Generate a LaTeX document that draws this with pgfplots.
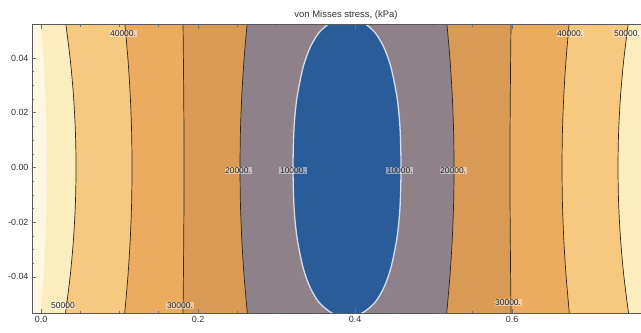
\documentclass[border=0pt]{standalone}
\usepackage{pgfplots}
\pgfplotsset{compat=1.18}
\usepackage{fontspec}
\setmainfont{Liberation Sans}
\definecolor{c60}{HTML}{FFF7E2}
\definecolor{c50}{HTML}{FCEDBE}
\definecolor{c40}{HTML}{F7C880}
\definecolor{c30}{HTML}{ECAC60}
\definecolor{c20}{HTML}{D89A55}
\definecolor{c10}{HTML}{8E818A}
\definecolor{c0}{HTML}{2B5C9A}
\definecolor{cline}{HTML}{2E2418}
\tikzset{lab/.style={font=\fontsize{8.5}{9}\selectfont, text=black!85, fill=white, fill opacity=0.45, text opacity=1, inner sep=0.6pt},
  contour/.style={draw=cline, line width=0.7pt, smooth, mark=none}}
\begin{document}
\begin{tikzpicture}
\path[use as bounding box] (0,0) rectangle (641bp,333bp);
\begin{axis}[
  at={(32bp,20bp)}, anchor=south west,
  scale only axis, width=628bp, height=288bp,
  xmin=-0.0115, xmax=0.7885, ymin=-0.0532, ymax=0.0521,
  axis background/.style={fill=c60},
  scaled x ticks=false, scaled y ticks=false,
  xtick={0,0.2,0.4,0.6}, xticklabels={0.0,0.2,0.4,0.6},
  ytick={-0.04,-0.02,0,0.02,0.04}, yticklabels={-0.04,-0.02,0.00,0.02,0.04},
  minor x tick num=3, minor y tick num=3,
  tick align=inside,
  major tick length=4bp, minor tick length=2bp,
  tick style={draw=black!55, line width=0.6pt},
  axis line style={draw=black!65, line width=1pt},
  tick label style={font=\fontsize{9}{10}\selectfont, text=black!80},
  title={von Misses stress, (kPa)},
  title style={font=\fontsize{9.5}{11}\selectfont, text=black!80, at={(0.5,1)}, anchor=center, yshift=4bp},
  axis on top,
  clip=true,
]
% filled bands (polygon = left contour top->bottom, right contour bottom->top)
\addplot[draw=none, fill=c50] coordinates {(-0.0019,0.058)(0.0000,0.052)(0.0033,0.039)(0.0057,0.026)(0.0071,0.013)(0.0076,0)(0.0071,-0.013)(0.0057,-0.026)(0.0033,-0.039)(0.0000,-0.052)(-0.0019,-0.058)
 (0.7815,-0.058)(0.7796,-0.052)(0.7763,-0.039)(0.7739,-0.026)(0.7725,-0.013)(0.7720,0)(0.7725,0.013)(0.7739,0.026)(0.7763,0.039)(0.7796,0.052)(0.7815,0.058)};
\addplot[draw=none, fill=c40] coordinates {(0.0288,0.058)(0.0318,0.052)(0.0374,0.039)(0.0414,0.026)(0.0438,0.013)(0.0446,0)(0.0438,-0.013)(0.0414,-0.026)(0.0374,-0.039)(0.0318,-0.052)(0.0288,-0.058)
 (0.7508,-0.058)(0.7478,-0.052)(0.7422,-0.039)(0.7382,-0.026)(0.7358,-0.013)(0.7350,0)(0.7358,0.013)(0.7382,0.026)(0.7422,0.039)(0.7478,0.052)(0.7508,0.058)};
\addplot[draw=none, fill=c30] coordinates {(0.1048,0.058)(0.1070,0.052)(0.1109,0.039)(0.1137,0.026)(0.1154,0.013)(0.1159,0)(0.1154,-0.013)(0.1137,-0.026)(0.1109,-0.039)(0.1070,-0.052)(0.1048,-0.058)
 (0.6748,-0.058)(0.6726,-0.052)(0.6687,-0.039)(0.6659,-0.026)(0.6642,-0.013)(0.6637,0)(0.6642,0.013)(0.6659,0.026)(0.6687,0.039)(0.6726,0.052)(0.6748,0.058)};
\addplot[draw=none, fill=c20] coordinates {(0.1806,0.058)(0.1809,0.052)(0.1814,0.039)(0.1818,0.026)(0.1821,0.013)(0.1822,0)(0.1821,-0.013)(0.1818,-0.026)(0.1814,-0.039)(0.1809,-0.052)(0.1806,-0.058)
 (0.5990,-0.058)(0.5987,-0.052)(0.5982,-0.039)(0.5978,-0.026)(0.5975,-0.013)(0.5974,0)(0.5975,0.013)(0.5978,0.026)(0.5982,0.039)(0.5987,0.052)(0.5990,0.058)};
\addplot[draw=none, fill=c10] coordinates {(0.2646,0.058)(0.2624,0.052)(0.2585,0.039)(0.2557,0.026)(0.2540,0.013)(0.2535,0)(0.2540,-0.013)(0.2557,-0.026)(0.2585,-0.039)(0.2624,-0.052)(0.2646,-0.058)
 (0.5150,-0.058)(0.5172,-0.052)(0.5211,-0.039)(0.5239,-0.026)(0.5256,-0.013)(0.5261,0)(0.5256,0.013)(0.5239,0.026)(0.5211,0.039)(0.5172,0.052)(0.5150,0.058)};
\addplot[fill=c0, draw=none, smooth] coordinates {(0.3898,0.0555)(0.3694,0.0530)(0.3541,0.0493)(0.3427,0.0438)(0.3337,0.0365)(0.3261,0.0256)(0.3223,0.0146)(0.3210,0)(0.3223,-0.0146)(0.3261,-0.0256)(0.3337,-0.0365)(0.3427,-0.0438)(0.3541,-0.0493)(0.3694,-0.0530)(0.3898,-0.0555)
 (0.4102,-0.0530)(0.4255,-0.0493)(0.4369,-0.0438)(0.4459,-0.0365)(0.4535,-0.0256)(0.4573,-0.0146)(0.4586,0)(0.4573,0.0146)(0.4535,0.0256)(0.4459,0.0365)(0.4369,0.0438)(0.4255,0.0493)(0.4102,0.0530)(0.3898,0.0555)};
% contour lines
\addplot[contour] coordinates {(0.0288,0.058)(0.0318,0.052)(0.0374,0.039)(0.0414,0.026)(0.0438,0.013)(0.0446,0)(0.0438,-0.013)(0.0414,-0.026)(0.0374,-0.039)(0.0318,-0.052)(0.0288,-0.058)};
\addplot[contour] coordinates {(0.7508,0.058)(0.7478,0.052)(0.7422,0.039)(0.7382,0.026)(0.7358,0.013)(0.7350,0)(0.7358,-0.013)(0.7382,-0.026)(0.7422,-0.039)(0.7478,-0.052)(0.7508,-0.058)};
\addplot[contour] coordinates {(0.1048,0.058)(0.1070,0.052)(0.1109,0.039)(0.1137,0.026)(0.1154,0.013)(0.1159,0)(0.1154,-0.013)(0.1137,-0.026)(0.1109,-0.039)(0.1070,-0.052)(0.1048,-0.058)};
\addplot[contour] coordinates {(0.6748,0.058)(0.6726,0.052)(0.6687,0.039)(0.6659,0.026)(0.6642,0.013)(0.6637,0)(0.6642,-0.013)(0.6659,-0.026)(0.6687,-0.039)(0.6726,-0.052)(0.6748,-0.058)};
\addplot[contour] coordinates {(0.1806,0.058)(0.1809,0.052)(0.1814,0.039)(0.1818,0.026)(0.1821,0.013)(0.1822,0)(0.1821,-0.013)(0.1818,-0.026)(0.1814,-0.039)(0.1809,-0.052)(0.1806,-0.058)};
\addplot[contour] coordinates {(0.5990,0.058)(0.5987,0.052)(0.5982,0.039)(0.5978,0.026)(0.5975,0.013)(0.5974,0)(0.5975,-0.013)(0.5978,-0.026)(0.5982,-0.039)(0.5987,-0.052)(0.5990,-0.058)};
\addplot[contour] coordinates {(0.2646,0.058)(0.2624,0.052)(0.2585,0.039)(0.2557,0.026)(0.2540,0.013)(0.2535,0)(0.2540,-0.013)(0.2557,-0.026)(0.2585,-0.039)(0.2624,-0.052)(0.2646,-0.058)};
\addplot[contour] coordinates {(0.5150,0.058)(0.5172,0.052)(0.5211,0.039)(0.5239,0.026)(0.5256,0.013)(0.5261,0)(0.5256,-0.013)(0.5239,-0.026)(0.5211,-0.039)(0.5172,-0.052)(0.5150,-0.058)};
\addplot[draw=white!80!c0, line width=1.3pt, smooth, mark=none] coordinates {(0.3898,0.0555)(0.3694,0.0530)(0.3541,0.0493)(0.3427,0.0438)(0.3337,0.0365)(0.3261,0.0256)(0.3223,0.0146)(0.3210,0)(0.3223,-0.0146)(0.3261,-0.0256)(0.3337,-0.0365)(0.3427,-0.0438)(0.3541,-0.0493)(0.3694,-0.0530)(0.3898,-0.0555)
 (0.4102,-0.0530)(0.4255,-0.0493)(0.4369,-0.0438)(0.4459,-0.0365)(0.4535,-0.0256)(0.4573,-0.0146)(0.4586,0)(0.4573,0.0146)(0.4535,0.0256)(0.4459,0.0365)(0.4369,0.0438)(0.4255,0.0493)(0.4102,0.0530)(0.3898,0.0555)};
% contour labels
\node[lab] at (axis cs:0.1045,0.0491) {40000.};
\node[lab] at (axis cs:0.6740,0.0491) {40000.};
\node[lab] at (axis cs:0.7465,0.0491) {50000.};
\node[lab] at (axis cs:0.0280,-0.0505) {50000};
\node[lab] at (axis cs:0.1770,-0.0505) {30000.};
\node[lab] at (axis cs:0.5950,-0.0495) {30000.};
\node[lab] at (axis cs:0.2510,-0.0010) {20000.};
\node[lab] at (axis cs:0.3210,-0.0010) {10000.};
\node[lab] at (axis cs:0.4570,-0.0010) {10000.};
\node[lab] at (axis cs:0.5250,-0.0010) {20000.};
\end{axis}
\end{tikzpicture}
\end{document}
